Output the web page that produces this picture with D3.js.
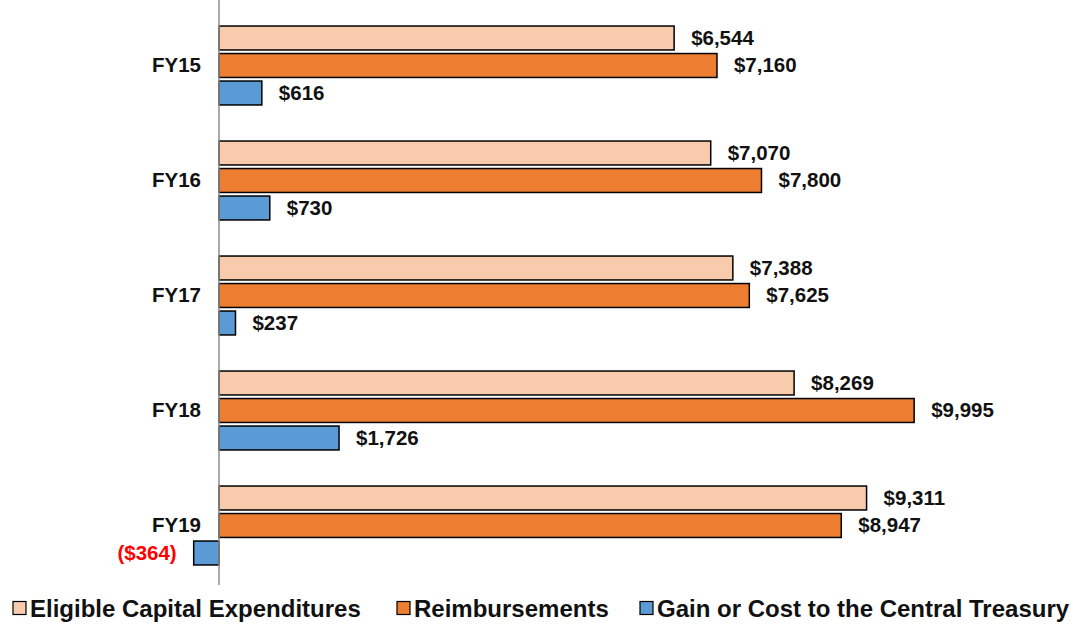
<!DOCTYPE html>
<html><head><meta charset="utf-8">
<script src="https://cdn.jsdelivr.net/npm/d3@7"></script>
<style>body{margin:0;background:#fff}svg{display:block}text{font-family:"Liberation Sans",Arial,sans-serif;font-weight:bold}</style>
</head><body><svg id="c" width="1080" height="627"></svg>
<script>
const categories = ["FY15","FY16","FY17","FY18","FY19"];
const seriesNames = ["Eligible Capital Expenditures","Reimbursements","Gain or Cost to the Central Treasury"];
const eligible = [6544, 7070, 7388, 8269, 9311];
const reimbursements = [7160, 7800, 7625, 9995, 8947];
const gain = [616, 730, 237, 1726, -364];
const colors = ["#F8CBAD","#ED7D31","#5B9BD5"];

const svg = d3.select("#c");
const x = d3.scaleLinear().domain([0, 10000]).range([219, 914.5]);
const y = d3.scaleBand().domain(categories).range([8, 583]);
const inner = d3.scaleBand().domain(seriesNames).range([-41.25, 41.25]).paddingInner(0.13).paddingOuter(0.065);
const data = [eligible, reimbursements, gain];
const fmt = v => v < 0 ? "($" + d3.format(",")(-v) + ")" : "$" + d3.format(",")(v);

seriesNames.forEach((s, si) => {
  const g = svg.append("g");
  categories.forEach((c, ci) => {
    const v = data[si][ci];
    const yc = y(c) + y.bandwidth()/2 + inner(s);
    const x0 = x(Math.min(0, v)), x1 = x(Math.max(0, v));
    g.append("rect").attr("x", x0).attr("y", yc).attr("width", x1 - x0).attr("height", inner.bandwidth())
      .attr("fill", colors[si]).attr("stroke", "#000").attr("stroke-width", 1.5);
    const t = g.append("text").attr("y", yc + inner.bandwidth()/2).attr("dy", "0.34em")
      .attr("font-size", 20.5).text(fmt(v));
    if (v < 0) t.attr("x", x(v) - 17).attr("text-anchor", "end").attr("fill", "#FF0000");
    else t.attr("x", x(v) + 17).attr("fill", "#111");
  });
});

// axis line
svg.append("line").attr("x1", x(0)).attr("x2", x(0)).attr("y1", 0).attr("y2", 585)
  .attr("stroke", "#8c8c8c").attr("stroke-width", 1.5);

// category labels
const yAxis = svg.append("g").attr("transform", `translate(${x(0)},0)`)
  .call(d3.axisLeft(y).tickSize(0).tickPadding(18));
yAxis.select(".domain").remove();
yAxis.selectAll("text").attr("font-size", 20.5).attr("fill", "#111")
  .attr("font-family", '"Liberation Sans",Arial,sans-serif').attr("font-weight", "bold");

// legend
const legX = [13, 397, 640];
const leg = svg.append("g");
seriesNames.forEach((s, i) => {
  leg.append("rect").attr("x", legX[i]).attr("y", 601.5).attr("width", 13).attr("height", 13)
    .attr("fill", colors[i]).attr("stroke", "#000").attr("stroke-width", 1.2);
  leg.append("text").attr("x", legX[i] + 17).attr("y", 608).attr("dy", "0.36em")
    .attr("font-size", 24).attr("fill", "#111").text(s);
});
</script></body></html>
